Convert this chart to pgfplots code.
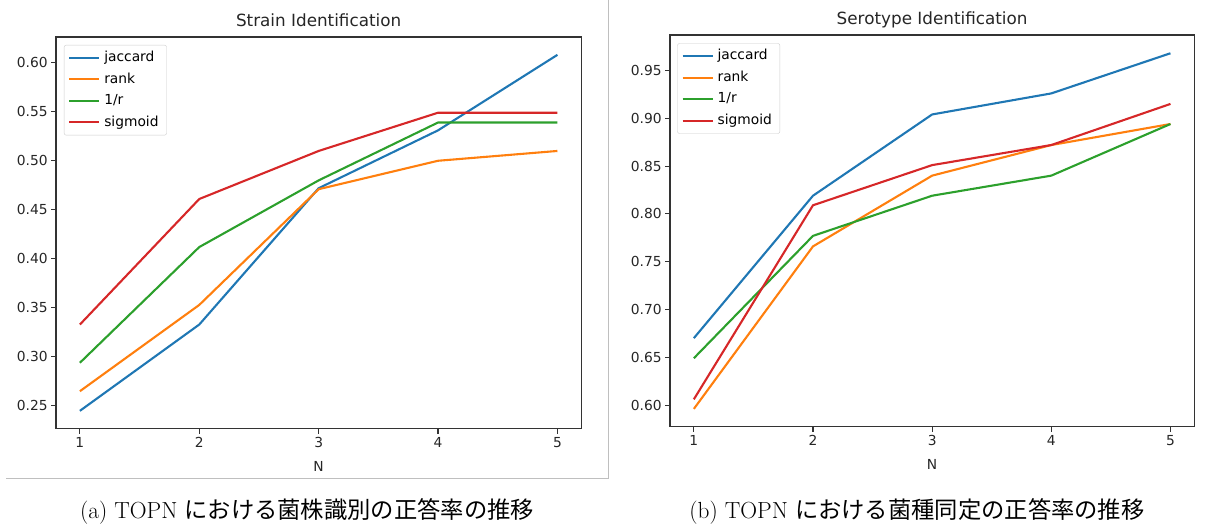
\documentclass[border=0pt]{standalone}
\usepackage{fontspec}
\usepackage{pgfplots}
\pgfplotsset{compat=1.18}
\newfontfamily\dejavu{DejaVu Sans}
\newfontfamily\cjk{Noto Sans CJK JP}
\definecolor{c0}{HTML}{1F77B4}
\definecolor{c1}{HTML}{FF7F0E}
\definecolor{c2}{HTML}{2CA02C}
\definecolor{c3}{HTML}{D62728}
\pgfplotsset{
  mpl/.style={
    scale only axis,
    xmin=0.8, xmax=5.2,
    xtick={1,2,3,4,5},
    xtick pos=bottom, ytick pos=left,
    axis line style={line width=1.1pt, black!80},
    tick align=outside,
    major tick length=4.9pt,
    every tick/.append style={black!80, line width=1.1pt},
    /pgf/number format/assume math mode=true,
    tick label style={font=\dejavu\fontsize{13.8}{16}\selectfont, text=black!85},
    yticklabel style={/pgf/number format/fixed, /pgf/number format/fixed zerofill, /pgf/number format/precision=2},
    scaled y ticks=false,
    label style={font=\dejavu\fontsize{13.8}{16}\selectfont, text=black!85},
    xlabel={N},
    xlabel style={at={(axis description cs:0.5,0)}, anchor=base, yshift=-42.5pt},
    title style={font=\dejavu\fontsize{16.8}{20}\selectfont, text=black!85, at={(axis description cs:0.5,1)}, anchor=base, yshift=4.5pt},
    legend style={font=\dejavu\fontsize{13.8}{16}\selectfont, draw=black!20, rounded corners=2pt, fill=white,
      inner xsep=4pt, inner ysep=2pt,
      nodes={text height=10.5pt, text depth=3pt, inner sep=4pt}},
    legend cell align=left,
    legend image code/.code={\draw[#1, line join=round] (0pt,0pt) -- (30pt,0pt);},
    every axis plot/.append style={line width=2.1pt, line join=round, no markers},
  }
}
\begin{document}
\begin{tikzpicture}
\useasboundingbox (0pt,0pt) rectangle (1213pt,527pt);
\draw[black!25, line width=1pt] (6pt,48pt) -- (608pt,48pt) -- (608pt,527pt);

\begin{axis}[mpl,
  at={(56pt,98.3pt)}, anchor=south west,
  width=525.3pt, height=391.7pt,
  ymin=0.2268, ymax=0.6262,
  ytick={0.25,0.30,0.35,0.40,0.45,0.50,0.55,0.60},
  title={Strain Identification},
  legend style={at={(0.0152,0.9796)}, anchor=north west},
]
\addplot[c0] coordinates {(1,0.245)(2,0.333)(3,0.472)(4,0.531)(5,0.608)};
\addlegendentry{jaccard}
\addplot[c1] coordinates {(1,0.265)(2,0.353)(3,0.471)(4,0.500)(5,0.510)};
\addlegendentry{rank}
\addplot[c2] coordinates {(1,0.294)(2,0.412)(3,0.480)(4,0.539)(5,0.539)};
\addlegendentry{1/r}
\addplot[c3] coordinates {(1,0.333)(2,0.461)(3,0.510)(4,0.549)(5,0.549)};
\addlegendentry{sigmoid}
\end{axis}

\begin{axis}[mpl,
  at={(670pt,100.3pt)}, anchor=south west,
  width=524.3pt, height=391.7pt,
  ymin=0.5774, ymax=0.9871,
  ytick={0.60,0.65,0.70,0.75,0.80,0.85,0.90,0.95},
  title={Serotype Identification},
  legend style={at={(0.0139,0.9788)}, anchor=north west},
]
\addplot[c0] coordinates {(1,0.670)(2,0.819)(3,0.904)(4,0.926)(5,0.968)};
\addlegendentry{jaccard}
\addplot[c1] coordinates {(1,0.596)(2,0.766)(3,0.840)(4,0.872)(5,0.894)};
\addlegendentry{rank}
\addplot[c2] coordinates {(1,0.649)(2,0.777)(3,0.819)(4,0.840)(5,0.894)};
\addlegendentry{1/r}
\addplot[c3] coordinates {(1,0.606)(2,0.809)(3,0.851)(4,0.872)(5,0.915)};
\addlegendentry{sigmoid}
\end{axis}

\node[anchor=base, inner sep=0pt, font=\fontsize{23.3}{27}\selectfont] at (307pt,8pt) {(a) TOPN {\cjk における菌株識別の正答率の推移}};
\node[anchor=base, inner sep=0pt, font=\fontsize{23.3}{27}\selectfont] at (917pt,8pt) {(b) TOPN {\cjk における菌種同定の正答率の推移}};
\end{tikzpicture}
\end{document}
